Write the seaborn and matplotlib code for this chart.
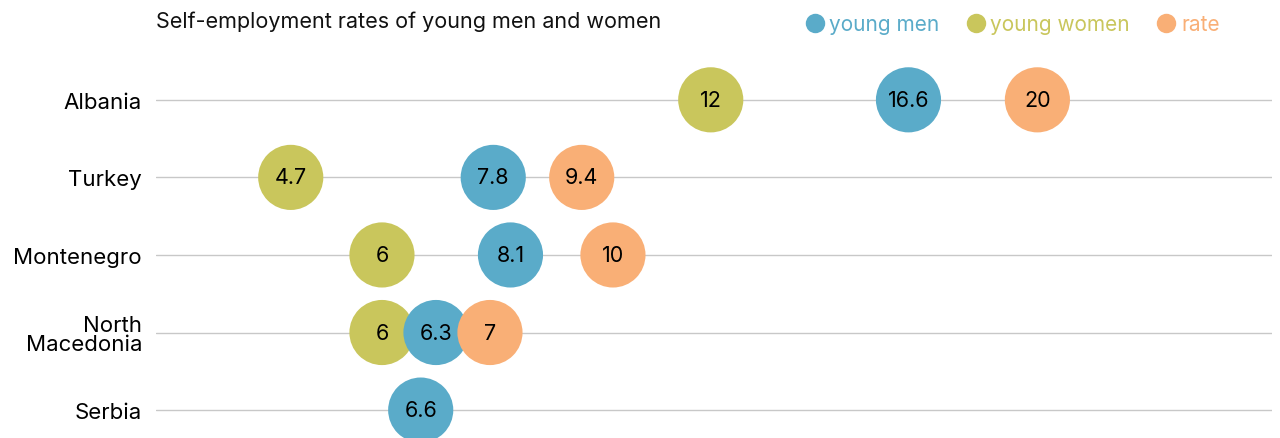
import numpy as np
import pandas as pd
import matplotlib
matplotlib.use("Agg")
import matplotlib.pyplot as plt
import seaborn as sns

# === data ===
countries = ["Albania", "Turkey", "Montenegro", "North Macedonia", "Serbia"]
tick_labels = ["Albania", "Turkey", "Montenegro", "North\nMacedonia", "Serbia"]
young_women = [12, 4.7, 6, 6, np.nan]
young_men = [16.6, 7.8, 8.1, 6.3, 6.6]
rate = [20, 9.4, 10, 7, np.nan]

series = ["young women", "young men", "rate"]
colors = {"young men": "#5aabc9", "young women": "#c9c65c", "rate": "#f9af76"}

df = pd.DataFrame({"country": countries, "young women": young_women,
                   "young men": young_men, "rate": rate})
long = df.melt(id_vars="country", var_name="group", value_name="value").dropna()
long["row"] = long["country"].map({c: i for i, c in enumerate(countries)})

sns.set_theme(style="white")
plt.rcParams["font.family"] = ["Inter", "DejaVu Sans"]

W, H = 1280, 439
fig = plt.figure(figsize=(W / 100, H / 100), dpi=100)
ax = fig.add_axes([156 / W, 0, (1272 - 156) / W, 1])

ax.set_xscale("function", functions=(np.sqrt, np.square))
ax.set_xlim(3.07, 27.0)
ax.set_ylim(4.36, -1.30)

# nudge circles that would sit on top of each other in the same row
# (the original uses a collision layout), working in pixels
min_gap = 54
long["pos"] = long["value"]
for row, grp in long.groupby("row"):
    grp = grp.sort_values("value")
    px = ax.transData.transform(np.c_[grp["value"], grp["row"]])[:, 0]
    for k in range(1, len(px)):
        px[k] = max(px[k], px[k - 1] + min_gap)
    back = ax.transData.inverted().transform(np.c_[px, np.zeros(len(px))])[:, 0]
    long.loc[grp.index, "pos"] = back

# horizontal guide lines per country
for i in range(len(countries)):
    ax.axhline(i, color="#c8c8c8", lw=1, zorder=0)

# circles (women first so men sit on top, like the original)
for g in series:
    sub = long[long["group"] == g]
    sns.scatterplot(data=sub, x="pos", y="row", color=colors[g], s=2200,
                    edgecolor="none", ax=ax, zorder=2, legend=False, clip_on=False)
    for _, r in sub.iterrows():
        ax.text(r["pos"], r["row"], f"{r['value']:g}", ha="center", va="center",
                fontsize=15.5, color="black", zorder=3)

ax.set_xlim(3.07, 27.0)
ax.set_ylim(4.36, -1.30)
ax.set_yticks(range(len(countries)))
ax.set_yticklabels(tick_labels, fontsize=16, color="black", linespacing=0.95)
for lbl in ax.get_yticklabels():
    lbl.set_horizontalalignment("right")
ax.tick_params(axis="y", length=0, pad=10)
ax.set_xticks([])
ax.set_xlabel("")
ax.set_ylabel("")
sns.despine(ax=ax, left=True, bottom=True)

fig.text(156 / W, 1 - 22 / H, "Self-employment rates of young men and women",
         fontsize=15.5, color="#111111", va="center", ha="left")

# legend in top right
handles = [plt.Line2D([], [], marker="o", ls="", markersize=14, color=colors[g],
                      markeredgewidth=0) for g in ["young men", "young women", "rate"]]
leg = fig.legend(handles, ["young men", "young women", "rate"], ncol=3,
                 loc="center right", bbox_to_anchor=(1228 / W, 1 - 25 / H),
                 frameon=False, fontsize=15, handletextpad=0.1, columnspacing=1.15,
                 handlelength=1.2, labelcolor="markerfacecolor", borderaxespad=0)

fig.savefig("out.png", dpi=100)
